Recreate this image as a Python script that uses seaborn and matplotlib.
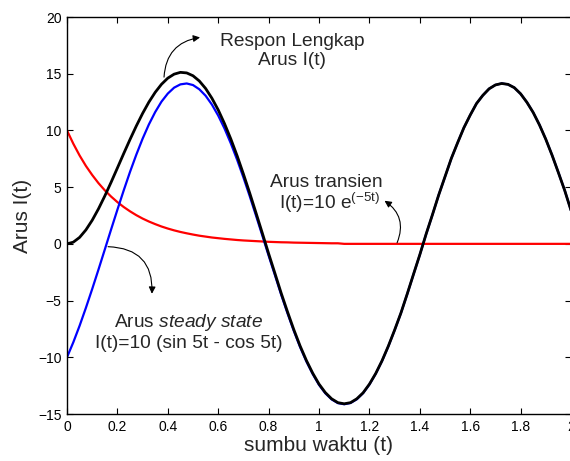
import matplotlib
matplotlib.use("Agg")
import matplotlib.pyplot as plt
import seaborn as sns
import numpy as np

# sample times (s), every 0.025 s
t = np.linspace(0, 2, 81)

# transient current
arus_transien = [10.0, 8.83, 7.79, 6.87, 6.07, 5.35, 4.72, 4.17, 3.68, 3.25,
                 2.87, 2.53, 2.23, 1.97, 1.74, 1.53, 1.35, 1.19, 1.05, 0.93,
                 0.82, 0.72, 0.64, 0.56, 0.50, 0.44, 0.39, 0.34, 0.30, 0.27,
                 0.24, 0.21, 0.18, 0.16, 0.14, 0.13, 0.11, 0.10, 0.09, 0.08,
                 0.07, 0.06, 0.05, 0.05, 0.0, 0.0, 0.0, 0.0, 0.0, 0.0,
                 0.0, 0.0, 0.0, 0.0, 0.0, 0.0, 0.0, 0.0, 0.0, 0.0,
                 0.0, 0.0, 0.0, 0.0, 0.0, 0.0, 0.0, 0.0, 0.0, 0.0,
                 0.0, 0.0, 0.0, 0.0, 0.0, 0.0, 0.0, 0.0, 0.0, 0.0, 0.0]

# steady state current
arus_steady = [-10.0, -8.68, -7.22, -5.64, -3.98, -2.26, -0.50, 1.27, 3.01, 4.71,
               6.34, 7.86, 9.27, 10.53, 11.62, 12.54, 13.25, 13.77, 14.06, 14.14,
               14.00, 13.63, 13.06, 12.28, 11.31, 10.17, 8.86, 7.42, 5.86, 4.21,
               2.49, 0.74, -1.03, -2.75, -4.49, -6.12, -7.67, -9.10, -10.37, -11.47,
               -12.43, -13.17, -13.71, -14.04, -14.14, -14.03, -13.70, -13.16, -12.40, -11.45,
               -10.33, -9.04, -7.62, -6.11, -4.43, -2.69, -0.97, 0.85, 2.55, 4.31,
               5.91, 7.52, 8.91, 10.24, 11.35, 12.37, 13.09, 13.67, 14.01, 14.14,
               14.06, 13.77, 13.23, 12.48, 11.58, 10.48, 9.22, 7.81, 6.28, 4.71, 2.95]

# complete response
arus_lengkap = [0.0, 0.15, 0.57, 1.23, 2.08, 3.09, 4.22, 5.43, 6.69, 7.96,
                9.20, 10.39, 11.50, 12.50, 13.36, 14.07, 14.61, 14.96, 15.12, 15.07,
                14.82, 14.36, 13.70, 12.84, 11.81, 10.60, 9.25, 7.77, 6.16, 4.48,
                2.73, 0.95, -0.85, -2.59, -4.35, -5.99, -7.56, -9.00, -10.28, -11.40,
                -12.36, -13.11, -13.66, -14.00, -14.10, -14.00, -13.66, -13.13, -12.37, -11.43,
                -10.31, -9.02, -7.60, -6.10, -4.42, -2.68, -0.96, 0.86, 2.56, 4.31,
                5.92, 7.53, 8.91, 10.24, 11.35, 12.37, 13.09, 13.67, 14.01, 14.14,
                14.06, 13.77, 13.23, 12.48, 11.58, 10.48, 9.22, 7.81, 6.28, 4.71, 2.95]

xticks = [0, 0.2, 0.4, 0.6, 0.8, 1, 1.2, 1.4, 1.6, 1.8, 2]
xtick_labels = ['0', '0.2', '0.4', '0.6', '0.8', '1', '1.2', '1.4', '1.6', '1.8', '2']
yticks = [-15, -10, -5, 0, 5, 10, 15, 20]

sns.set_style('ticks')
plt.rcParams['font.family'] = ['Liberation Sans', 'DejaVu Sans']
plt.rcParams['mathtext.fontset'] = 'custom'
plt.rcParams['mathtext.rm'] = 'Liberation Sans'
plt.rcParams['mathtext.it'] = 'Liberation Sans:italic'
plt.rcParams['mathtext.default'] = 'regular'

fig = plt.figure(figsize=(5.7, 4.61), dpi=100)
ax = fig.add_axes([67 / 570, 47 / 461, 504 / 570, 397 / 461])

sns.lineplot(x=t, y=arus_transien, ax=ax, color='#ff0000', linewidth=1.6)
sns.lineplot(x=t, y=arus_steady, ax=ax, color='#0000ff', linewidth=1.6)
sns.lineplot(x=t, y=arus_lengkap, ax=ax, color='black', linewidth=2.0)

ax.set_xlim(0, 2)
ax.set_ylim(-15, 20)
ax.set_xticks(xticks)
ax.set_xticklabels(xtick_labels)
ax.set_yticks(yticks)
ax.tick_params(direction='in', length=4, width=0.8, top=True, right=True,
               labelsize=10, colors='black', pad=4)
for s in ax.spines.values():
    s.set_visible(True)
    s.set_linewidth(1.0)
    s.set_color('black')

ax.set_xlabel('sumbu waktu (t)', fontsize=15, labelpad=2)
ax.set_ylabel('Arus I(t)', fontsize=15, labelpad=4)

arrow = dict(arrowstyle='-|>', color='black', lw=0.8, mutation_scale=10,
             shrinkA=0, shrinkB=0)

# complete response
ax.text(0.893, 17.0, 'Respon Lengkap\nArus I(t)', ha='center', va='center',
        fontsize=13.8, linespacing=1.15)
ax.annotate('', xy=(0.528, 18.2), xytext=(0.385, 14.7),
            arrowprops=dict(arrow, connectionstyle='arc3,rad=-0.4'))

# transient
ax.text(1.03, 5.4, 'Arus transien', ha='center', va='center', fontsize=13.8)
ax.text(1.04, 3.6, 'I(t)=10 e$^{(-5t)}$', ha='center', va='center', fontsize=13.8)
ax.annotate('', xy=(1.26, 3.8), xytext=(1.31, 0.1),
            arrowprops=dict(arrow, connectionstyle='arc3,rad=0.4'))

# steady state
ax.text(0.484, -6.9, r'Arus $\it{steady\ state}$', ha='center', va='center',
        fontsize=13.8)
ax.text(0.484, -8.8, 'I(t)=10 (sin 5t - cos 5t)', ha='center', va='center',
        fontsize=13.8)
ax.annotate('', xy=(0.337, -4.4), xytext=(0.163, -0.25),
            arrowprops=dict(arrow, connectionstyle='arc3,rad=-0.5'))

fig.savefig('out.png', dpi=100, facecolor='white')
